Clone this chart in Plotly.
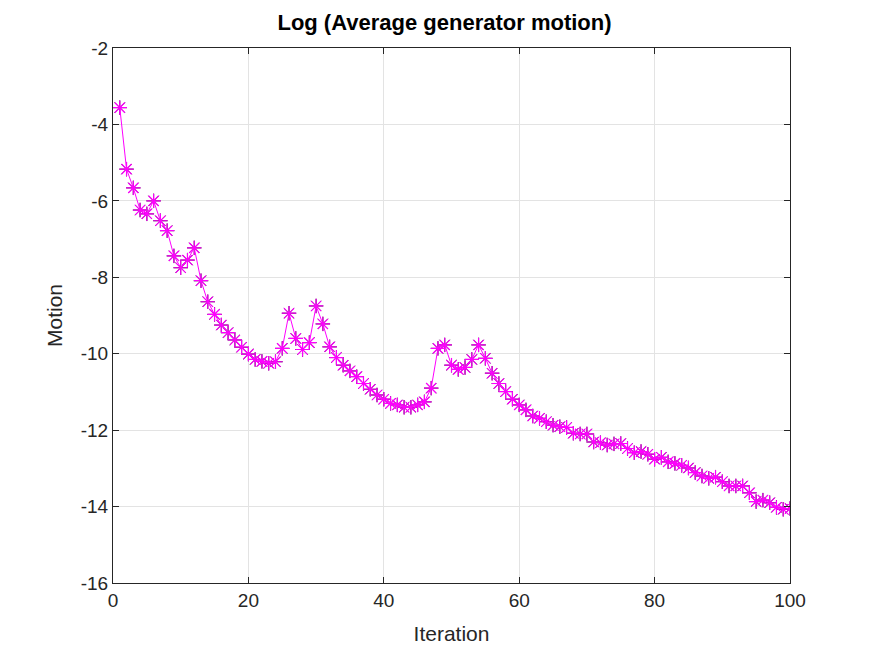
import plotly.graph_objects as go

iterations = list(range(1, 101))
motion = [
    -3.56, -5.17, -5.66, -6.24, -6.34, -6.00, -6.52, -6.78, -7.44, -7.75,
    -7.55, -7.23, -8.09, -8.64, -8.97, -9.25, -9.45, -9.64, -9.83, -10.01,
    -10.15, -10.20, -10.25, -10.21, -9.86, -8.94, -9.60, -9.89, -9.71, -8.75,
    -9.22, -9.82, -10.10, -10.30, -10.45, -10.60, -10.78, -10.93, -11.08, -11.19,
    -11.30, -11.34, -11.40, -11.40, -11.34, -11.26, -10.90, -9.86, -9.77, -10.30,
    -10.41, -10.36, -10.15, -9.77, -10.12, -10.51, -10.78, -10.99, -11.19, -11.34,
    -11.47, -11.63, -11.69, -11.78, -11.87, -11.91, -11.93, -12.08, -12.10, -12.10,
    -12.31, -12.33, -12.39, -12.36, -12.35, -12.48, -12.59, -12.56, -12.63, -12.76,
    -12.71, -12.83, -12.87, -12.92, -12.99, -13.11, -13.20, -13.26, -13.23, -13.35,
    -13.46, -13.46, -13.46, -13.64, -13.87, -13.83, -13.90, -14.02, -14.07, -14.05,
]
x_ticks = [0, 20, 40, 60, 80, 100]
y_ticks = [-16, -14, -12, -10, -8, -6, -4, -2]

FONT = "Liberation Sans, Arial, sans-serif"

fig = go.Figure()
fig.add_trace(go.Scatter(
    x=iterations, y=motion, mode="markers",
    marker=dict(symbol="asterisk-open", size=12, color="black",
                line=dict(color="black", width=1)),
    showlegend=False,
))
fig.add_trace(go.Scatter(
    x=iterations, y=motion, mode="lines+markers",
    line=dict(color="#ff00ff", width=1),
    marker=dict(symbol="asterisk-open", size=12, color="#ff00ff",
                line=dict(color="#ff00ff", width=1.2)),
    showlegend=False,
))

axis_common = dict(
    showline=True, linecolor="#262626", linewidth=1, mirror="ticks",
    ticks="inside", ticklen=6, tickcolor="#262626",
    showgrid=True, gridcolor="#e3e3e3", gridwidth=1, zeroline=False,
    automargin=False,
    tickfont=dict(family=FONT, size=19, color="#262626"),
)

fig.update_layout(
    width=873, height=655,
    margin=dict(l=105, r=91, t=40, b=80),
    paper_bgcolor="white", plot_bgcolor="white",
    title=dict(text="<b>Log (Average generator motion)</b>", x=0.5, xanchor="center",
               y=0.978, yanchor="middle", pad=dict(t=0),
               font=dict(family=FONT, size=22, color="black")),
    xaxis=dict(range=[0, 100], tickvals=x_ticks, ticktext=[str(v) for v in x_ticks],
               title=dict(text="Iteration", standoff=16,
                          font=dict(family=FONT, size=21, color="#262626")),
               **axis_common),
    yaxis=dict(range=[-16, -2], tickvals=y_ticks, ticktext=[str(v) for v in y_ticks],
               title=dict(text="Motion", standoff=12,
                          font=dict(family=FONT, size=21, color="#262626")),
               **axis_common),
)

fig.write_html("out.html")
